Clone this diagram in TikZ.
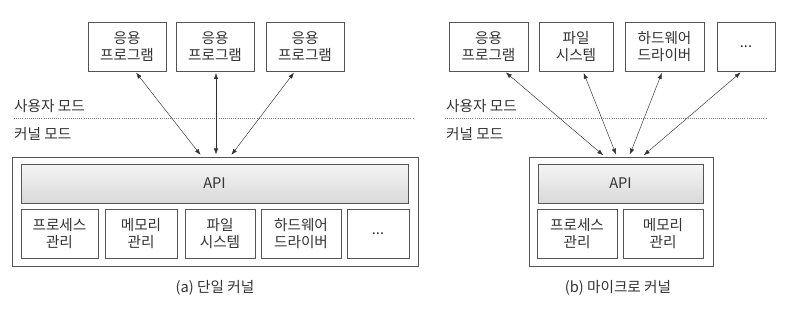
\documentclass[tikz,border=0pt]{standalone}
\usepackage{fontspec}
\setmainfont{Noto Sans CJK KR}
\usetikzlibrary{arrows.meta,calc,shadows}
\newcommand{\pxu}{0.3mm}
\definecolor{ink}{HTML}{333333}
\definecolor{edge}{HTML}{555555}

\begin{document}
\begin{tikzpicture}[
    x=0.3mm, y=-0.3mm,
    font=\fontsize{12.5pt}{15pt}\selectfont, text=ink,
    box/.style={draw=edge, fill=white, align=center, inner sep=0pt,
                drop shadow={shadow xshift=0.8pt, shadow yshift=-0.8pt, opacity=0.25}},
    kernbox/.style={draw=edge, fill=white, inner sep=0pt,
                drop shadow={shadow xshift=0.8pt, shadow yshift=-0.8pt, opacity=0.25}},
    apibox/.style={draw=edge, inner sep=0pt, top color=gray!8, bottom color=gray!30},
    flow/.style={{Latex[length=1.8mm,width=1.3mm]}-{Latex[length=1.8mm,width=1.3mm]},
                 thin, black!80, shorten <=1.5pt, shorten >=2pt},
    modeline/.style={densely dotted, gray, thick},
    lbl/.style={anchor=west, inner sep=0pt},
  ]
  \useasboundingbox (0,0) rectangle (792,323);

  % (a) monolithic kernel
  \node[kernbox, minimum width=406*\pxu, minimum height=109*\pxu] (kernA) at (215,211.5) {};
  \node[apibox, minimum width=387*\pxu, minimum height=39*\pxu] (apiA) at (214.5,183.5) {API};
  \node[box, minimum width=77*\pxu, minimum height=49*\pxu] (procA) at (59.5,233.5) {프로세스\\관리};
  \node[box, minimum width=72*\pxu, minimum height=49*\pxu] (memA) at (141,233.5) {메모리\\관리};
  \node[box, minimum width=70*\pxu, minimum height=49*\pxu] (fsA) at (220,233.5) {파일\\시스템};
  \node[box, minimum width=80*\pxu, minimum height=49*\pxu] (hwA) at (301,233.5) {하드웨어\\드라이버};
  \node[box, minimum width=62*\pxu, minimum height=49*\pxu] (etcA) at (378,233.5) {...};

  \node[box, minimum width=78*\pxu, minimum height=49*\pxu] (appA1) at (127,46.5) {응용\\프로그램};
  \node[box, minimum width=78*\pxu, minimum height=49*\pxu] (appA2) at (215,46.5) {응용\\프로그램};
  \node[box, minimum width=78*\pxu, minimum height=49*\pxu] (appA3) at (305,46.5) {응용\\프로그램};

  \node[lbl] (userA) at (14,106) {사용자 모드};
  \node[lbl] (kmodeA) at (14,134) {커널 모드};
  \coordinate (lineA1) at (14,118);
  \coordinate (lineA2) at (413,118);
  \draw[modeline] (lineA1) -- (lineA2);

  \draw[flow] ($(appA1.south)+(8,0)$) -- ($(kernA.north)+(-13,0)$);
  \draw[flow] ($(appA2.south)+(1,0)$) -- ($(kernA.north)+(1,0)$);
  \draw[flow] ($(appA3.south)+(-10,0)$) -- ($(kernA.north)+(15,0)$);

  \node (capA) at (215,288) {(a) 단일 커널};

  % (b) microkernel
  \node[kernbox, minimum width=184*\pxu, minimum height=109*\pxu] (kernB) at (621,211.5) {};
  \node[apibox, minimum width=165*\pxu, minimum height=39*\pxu] (apiB) at (620.5,183.5) {API};
  \node[box, minimum width=80*\pxu, minimum height=49*\pxu] (procB) at (577,233.5) {프로세스\\관리};
  \node[box, minimum width=80*\pxu, minimum height=49*\pxu] (memB) at (663,233.5) {메모리\\관리};

  \node[box, minimum width=79*\pxu, minimum height=49*\pxu] (appB) at (488.5,46.5) {응용\\프로그램};
  \node[box, minimum width=74*\pxu, minimum height=49*\pxu] (fsB) at (576,46.5) {파일\\시스템};
  \node[box, minimum width=79*\pxu, minimum height=49*\pxu] (hwB) at (664.5,46.5) {하드웨어\\드라이버};
  \node[box, minimum width=58*\pxu, minimum height=49*\pxu] (etcB) at (746,46.5) {...};

  \node[lbl] (userB) at (446,106) {사용자 모드};
  \node[lbl] (kmodeB) at (446,134) {커널 모드};
  \coordinate (lineB1) at (445,118);
  \coordinate (lineB2) at (767,118);
  \draw[modeline] (lineB1) -- (lineB2);

  \draw[flow] ($(appB.south)+(16,0)$) -- ($(kernB.north)+(-16,0)$);
  \draw[flow] ($(fsB.south)+(7,0)$) -- ($(kernB.north)+(-4,0)$);
  \draw[flow] ($(hwB.south)+(-2,0)$) -- ($(kernB.north)+(8,0)$);
  \draw[flow] ($(etcB.south)+(-4,0)$) -- ($(kernB.north)+(21,0)$);

  \node (capB) at (618,288) {(b) 마이크로 커널};
\end{tikzpicture}
\end{document}
